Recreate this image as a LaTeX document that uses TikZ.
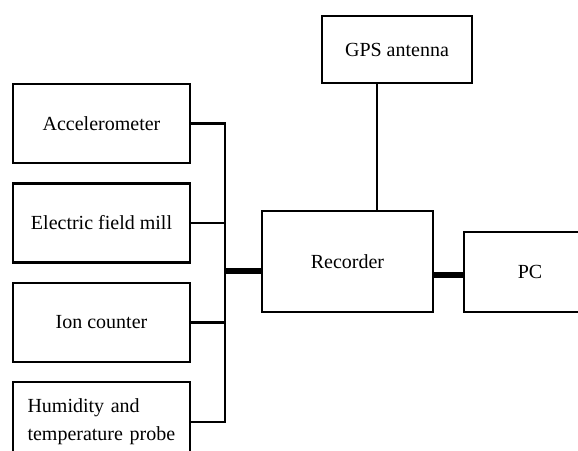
\documentclass[tikz,border=0pt]{standalone}
\usepackage{fontspec}
\setmainfont{Liberation Serif}
\usetikzlibrary{positioning, calc}

\begin{document}
\begin{tikzpicture}[
  x=0.5pt, y=-0.5pt,
  unit/.style 2 args={
    draw, line width=1.2pt, minimum width=#1, minimum height=#2,
    inner sep=3pt, align=center,
  },
  wire/.style={line width=1.2pt},
  trunk/.style={line width=2.6pt},
  every node/.style={font=\fontsize{10}{14}\selectfont},
  node distance=9pt,
]
\clip (0,0) rectangle (578,450);

%% ── Sensors (left column) ───────────────────────────────────────────
\node[unit={88.5pt}{39.5pt}] (acc) at (101.5,123.5) {Accelerometer};
\node[unit={88.5pt}{39.5pt}, below=of acc] (efm) {Electric field mill};
\node[unit={88.5pt}{39.5pt}, below=of efm] (ion) {Ion counter};
\node[unit={88.5pt}{39.5pt}, below=of ion, text width=74pt, align=left]
  (hum) {Humidity and\\temperature probe};

%% ── Recorder, GPS, PC ───────────────────────────────────────────────
\node[unit={85.5pt}{50.5pt}] (rec) at (347.5,261.5) {Recorder};
\node[unit={75pt}{33.5pt}] (gps) at (397,49.5) {GPS antenna};
\node[unit={66pt}{40pt}] (pc) at (530,272) {PC};

%% ── Connectors ──────────────────────────────────────────────────────
\coordinate (jn) at (225,271);
\foreach \s in {acc,efm,ion,hum}
  \draw[wire] (\s.east) -| (jn);
\draw[trunk] (jn) -- (jn -| rec.west);

% antenna lead sits left of the GPS box centre
\draw[wire] ([xshift=-10pt]gps.south) -- ([xshift=-10pt]gps.south |- rec.north);

\draw[trunk] (rec.east |- 0,275) -- (pc.west |- 0,275);

\end{tikzpicture}
\end{document}
